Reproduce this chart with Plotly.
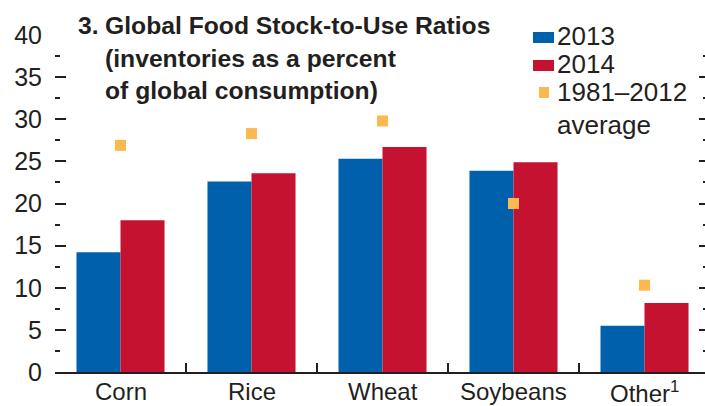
import plotly.graph_objects as go

categories = ["Corn", "Rice", "Wheat", "Soybeans", "Other<sup>1</sup>"]
v2013 = [14.2, 22.6, 25.3, 23.9, 5.5]
v2014 = [18.0, 23.6, 26.7, 24.9, 8.2]
avg = [26.9, 28.3, 29.8, 20.0, 10.3]
yticks = [0, 5, 10, 15, 20, 25, 30, 35, 40]

W, H = 705, 406
ML, MR, MT, MB = 55, 0, 35, 34
PW, PH = W - ML - MR, H - MT - MB

BLUE = "#0060AC"
RED = "#C41230"
ORANGE = "#FDB950"
TXT = "#231F20"
FONT = "Liberation Sans, Arial, sans-serif"

def px(x):
    return (x - ML) / PW

def py(y):
    return (H - MB - y) / PH

xs = list(range(len(categories)))

fig = go.Figure()
fig.add_trace(go.Bar(x=xs, y=v2013, name="2013", marker=dict(color=BLUE, line=dict(width=0))))
fig.add_trace(go.Bar(x=xs, y=v2014, name="2014", marker=dict(color=RED, line=dict(width=0))))
fig.add_trace(go.Scatter(x=xs, y=avg, mode="markers", name="1981–2012 average",
                         marker=dict(symbol="square", size=11, color=ORANGE, line=dict(width=0))))

xr = [-0.5, -0.5 + PW / 131.0]

fig.update_layout(
    width=W, height=H, autosize=False,
    margin=dict(l=ML, r=MR, t=MT, b=MB, pad=0, autoexpand=False),
    paper_bgcolor="white", plot_bgcolor="white",
    showlegend=False,
    barmode="group", bargap=0.328, bargroupgap=0,
    font=dict(family=FONT, color=TXT, size=24),
    xaxis=dict(range=xr, tickmode="array", tickvals=xs, ticktext=categories, automargin=False,
               showgrid=False, zeroline=False, showline=True, linecolor=TXT, linewidth=2,
               ticks="", showticklabels=False),
    xaxis2=dict(range=xr, overlaying="x", tickmode="array", automargin=False,
                tickvals=[0.5, 1.5, 2.5, 3.5], ticks="inside", ticklen=9, tickwidth=2,
                tickcolor=TXT, showticklabels=False, showgrid=False, zeroline=False,
                showline=False, side="bottom", anchor="y"),
    yaxis=dict(range=[0, 40], tickmode="array", tickvals=yticks, ticks="inside", automargin=False,
               ticklen=11, tickwidth=2, tickcolor=TXT, showgrid=False, zeroline=False,
               showline=False, tickfont=dict(size=25, color=TXT), ticklabelstandoff=12,
               minor=dict(tickmode="linear", tick0=2.5, dtick=5, ticks="inside", ticklen=5,
                          tickwidth=1.5, tickcolor=TXT)),
    yaxis2=dict(range=[0, 40], overlaying="y", side="right", tickmode="array", tickvals=yticks,
                automargin=False,
                ticks="inside", ticklen=6, tickwidth=2, tickcolor=TXT, showticklabels=False,
                showgrid=False, zeroline=False, showline=False,
                minor=dict(tickmode="linear", tick0=2.5, dtick=5, ticks="inside", ticklen=2,
                           tickwidth=1.5, tickcolor=TXT)),
)

# invisible traces to activate secondary axes
fig.add_trace(go.Scatter(x=[0], y=[0], xaxis="x2", yaxis="y", mode="markers",
                         marker=dict(opacity=0), hoverinfo="skip"))
fig.add_trace(go.Scatter(x=[0], y=[0], xaxis="x", yaxis="y2", mode="markers",
                         marker=dict(opacity=0), hoverinfo="skip"))

# category labels under the axis
for i, c in zip(xs, categories):
    fig.add_annotation(text=c, x=i, xref="x", y=py(391.5), yref="paper",
                       xanchor="center", yanchor="middle", showarrow=False, borderpad=0,
                       font=dict(family=FONT, size=24, color=TXT))

def ann(text, x, y, size, bold=False, anchor="left"):
    fig.add_annotation(text=("<b>%s</b>" % text) if bold else text,
                       x=px(x), y=py(y), xref="paper", yref="paper",
                       xanchor=anchor, yanchor="middle", showarrow=False, borderpad=0,
                       font=dict(family=FONT, size=size, color=TXT))

# title
ann("3.", 77, 25, 24.7, bold=True)
ann("Global Food Stock-to-Use Ratios", 104, 25, 24.7, bold=True)
ann("(inventories as a percent", 104, 58, 24.7, bold=True)
ann("of global consumption)", 104, 91, 24.7, bold=True)

# legend
def rect(x0, y0, x1, y1, color):
    fig.add_shape(type="rect", xref="paper", yref="paper",
                  x0=px(x0), x1=px(x1), y0=py(y1), y1=py(y0),
                  fillcolor=color, line=dict(width=0), layer="above")

rect(533, 32, 554, 43, BLUE)
rect(533, 60, 554, 71, RED)
rect(539, 87, 549, 98, ORANGE)
ann("2013", 556, 36, 26)
ann("2014", 556, 64, 26)
ann("1981–2012", 556, 92, 26)
ann("average", 556, 125, 26)

fig.write_html("out.html", config={"displayModeBar": False},
               post_script="document.body.style.margin='0';document.body.style.overflow='hidden';")
